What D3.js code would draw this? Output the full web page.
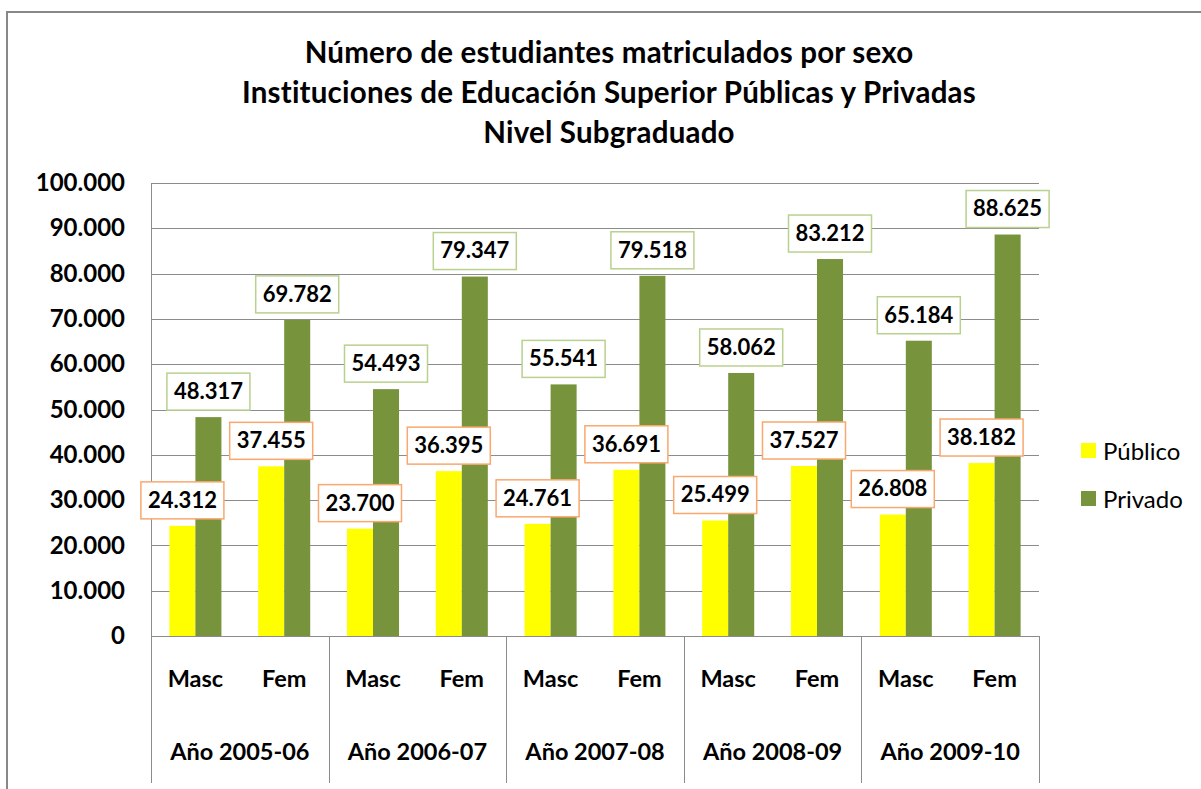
<!DOCTYPE html>
<html>
<head>
<meta charset="utf-8">
<script src="https://cdn.jsdelivr.net/npm/d3@7"></script>
<style>
  body { margin: 0; background: #fff; }
  svg { display: block; font-family: Lato, "Open Sans", sans-serif; }
</style>
</head>
<body>
<div id="chart"></div>
<script>
// data
const years = ['Año 2005-06', 'Año 2006-07', 'Año 2007-08', 'Año 2008-09', 'Año 2009-10']
const sexes = ['Masc', 'Fem']
const series = ['Público', 'Privado']
const publico = [24312, 37455, 23700, 36395, 24761, 36691, 25499, 37527, 26808, 38182]
const privado = [48317, 69782, 54493, 79347, 55541, 79518, 58062, 83212, 65184, 88625]
const yTicks = [0, 10000, 20000, 30000, 40000, 50000, 60000, 70000, 80000, 90000, 100000]
const titleLines = [
  'Número de estudiantes matriculados por sexo',
  'Instituciones de Educación Superior Públicas y Privadas',
  'Nivel Subgraduado'
]

const colors = { 'Público': '#ffff00', 'Privado': '#77933c' }
const labelBorder = { 'Público': '#f9a86e', 'Privado': '#b9d18e' }

let width = 1201
let height = 789
let plot = { left: 151, right: 1039, top: 183, bottom: 636 }

let svg = d3.select('#chart').append('svg')
  .attr('width', width)
  .attr('height', height)

// outer frame
svg.append('rect')
  .attr('x', 7).attr('y', 12)
  .attr('width', 1220).attr('height', 800)
  .attr('fill', '#fff')
  .attr('stroke', '#888').attr('stroke-width', 2)

// title
svg.append('g').selectAll('text')
  .data(titleLines)
  .enter().append('text')
  .attr('x', 609)
  .attr('y', (d, i) => 63 + i * 40)
  .attr('text-anchor', 'middle')
  .attr('font-size', 29.5)
  .attr('letter-spacing', 0.2)
  .attr('font-weight', 'bold')
  .text(d => d)

let categories = []
years.forEach(y => sexes.forEach(s => categories.push(y + '|' + s)))

let x = d3.scaleBand().domain(categories).range([plot.left, plot.right]).padding(0)
let xs = d3.scaleBand().domain(series)
  .range([x.bandwidth() * 0.207, x.bandwidth() * 0.793]).padding(0)
let xYear = d3.scaleBand().domain(years).range([plot.left, plot.right]).padding(0)
let y = d3.scaleLinear().domain([0, 100000]).range([plot.bottom, plot.top])

let locale = d3.formatLocale({ decimal: ',', thousands: '.', grouping: [3], currency: ['', ''] })
let fmt = locale.format(',d')

// gridlines
svg.append('g').selectAll('line')
  .data(yTicks.filter(d => d > 0))
  .enter().append('line')
  .attr('x1', plot.left).attr('x2', plot.right)
  .attr('y1', d => Math.round(y(d)) + 0.5).attr('y2', d => Math.round(y(d)) + 0.5)
  .attr('stroke', '#8c8c8c')

// y axis
let yAxis = svg.append('g')
  .attr('transform', `translate(${plot.left},0)`)
  .call(d3.axisLeft(y).tickValues(yTicks).tickFormat(fmt).tickSize(0).tickPadding(26))
yAxis.select('.domain').remove()
yAxis.selectAll('text')
  .attr('font-size', 24)
  .attr('font-weight', 'bold')
  .attr('fill', '#000')
  .attr('font-family', 'Lato, sans-serif')
svg.append('line')
  .attr('x1', plot.left + 0.5).attr('x2', plot.left + 0.5)
  .attr('y1', plot.top).attr('y2', 783)
  .attr('stroke', '#8c8c8c')

// bars
let rows = []
categories.forEach((c, i) => {
  rows.push({ cat: c, s: 'Público', v: publico[i] })
  rows.push({ cat: c, s: 'Privado', v: privado[i] })
})

svg.append('g').selectAll('rect')
  .data(rows)
  .enter().append('rect')
  .attr('x', d => x(d.cat) + xs(d.s))
  .attr('y', d => y(d.v))
  .attr('width', xs.bandwidth())
  .attr('height', d => y(0) - y(d.v))
  .attr('fill', d => colors[d.s])

// category table under the axis
svg.append('line')
  .attr('x1', plot.left).attr('x2', plot.right)
  .attr('y1', plot.bottom + 0.5).attr('y2', plot.bottom + 0.5)
  .attr('stroke', '#8c8c8c')
svg.append('g').selectAll('line')
  .data(years)
  .enter().append('line')
  .attr('x1', d => Math.round(xYear(d) + xYear.bandwidth()) + 0.5)
  .attr('x2', d => Math.round(xYear(d) + xYear.bandwidth()) + 0.5)
  .attr('y1', plot.bottom).attr('y2', 783)
  .attr('stroke', '#8c8c8c')

svg.append('g').selectAll('text')
  .data(categories)
  .enter().append('text')
  .attr('x', d => x(d) + x.bandwidth() / 2)
  .attr('y', 687)
  .attr('text-anchor', 'middle')
  .attr('font-size', 23.5)
  .attr('font-weight', 'bold')
  .text(d => d.split('|')[1])

svg.append('g').selectAll('text')
  .data(years)
  .enter().append('text')
  .attr('x', d => xYear(d) + xYear.bandwidth() / 2)
  .attr('y', 760)
  .attr('text-anchor', 'middle')
  .attr('font-size', 23.5)
  .attr('font-weight', 'bold')
  .text(d => d)

// data labels (Privado first so Público boxes sit on top)
let labelRows = rows.filter(d => d.s === 'Privado').concat(rows.filter(d => d.s === 'Público'))
let labels = svg.append('g').selectAll('g')
  .data(labelRows)
  .enter().append('g')
  .attr('transform', d => `translate(${x(d.cat) + xs(d.s) + xs.bandwidth() / 2},${y(d.v) - 26})`)
labels.append('rect')
  .attr('x', -41.5).attr('y', -18)
  .attr('width', 83).attr('height', 37)
  .attr('fill', '#fff')
  .attr('stroke', d => labelBorder[d.s])
  .attr('stroke-width', 1.5)
labels.append('text')
  .attr('text-anchor', 'middle')
  .attr('dy', '0.36em')
  .attr('font-size', 22)
  .attr('font-weight', 'bold')
  .text(d => fmt(d.v))

// legend
let legend = svg.append('g').selectAll('g')
  .data(series)
  .enter().append('g')
  .attr('transform', (d, i) => `translate(1081,${443 + i * 48})`)
legend.append('rect')
  .attr('width', 15).attr('height', 15)
  .attr('fill', d => colors[d])
legend.append('text')
  .attr('x', 22).attr('y', 8)
  .attr('dy', '0.36em')
  .attr('font-size', 24)
  .text(d => d)
</script>
</body>
</html>
